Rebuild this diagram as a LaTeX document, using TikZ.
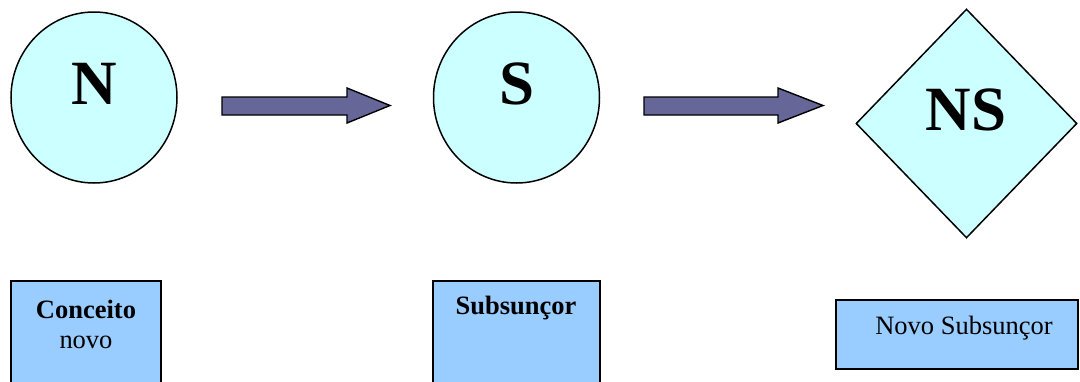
\documentclass[tikz,border=0pt]{standalone}
\usepackage{fontspec}
\setmainfont{Liberation Serif}
\usetikzlibrary{shapes.geometric}
\definecolor{bubble}{HTML}{CCFFFF}
\definecolor{card}{HTML}{99CCFF}
\definecolor{shaft}{HTML}{666699}
\begin{document}
\begin{tikzpicture}[x=1pt,y=-1pt,
  disc/.style={ellipse,draw=black,line width=1.5pt,fill=bubble,inner sep=0pt,
    minimum width=166pt,minimum height=171pt},
  rhomb/.style={diamond,draw=black,line width=1.5pt,fill=bubble,inner sep=0pt,
    minimum width=221pt,minimum height=229pt},
  bigletter/.style={font=\fontsize{63}{70}\selectfont\bfseries,inner sep=0pt},
  card/.style={draw=black,line width=1.6pt,fill=card},
  cardtext/.style={font=\fontsize{26.5}{30}\selectfont,inner sep=0pt,align=center},
  blockarrow/.style={draw=black,line width=1.4pt,fill=shaft,line join=miter}]
\useasboundingbox (0,0) rectangle (1080,381);

% concept shapes
\node[disc] (n) at (94,97.5) {};
\node[bigletter] (nlab) at (94,84) {N};
\node[disc] (s) at (516.5,97.5) {};
\node[bigletter] (slab) at (517,84) {S};
\node[rhomb] (ns) at (966.5,123.5) {};
\node[bigletter] (nslab) at (966,110) {NS};

% block arrows between the shapes
\path[blockarrow] (222,97) -- (347,97) -- (347,88) -- (390,105.5) -- (347,123)
  -- (347,115) -- (222,115) -- cycle;
\path[blockarrow] (644,97) -- (778,97) -- (778,88) -- (823,105.5) -- (778,123)
  -- (778,115) -- (644,115) -- cycle;

% caption cards
\path[card] (11,281) rectangle (161,385);
\node[cardtext] (c1) at (86,324) {\bfseries Conceito\\novo};
\path[card] (433,281) rectangle (600,385);
\node[cardtext] (c2) at (516,308) {\bfseries Subsunçor};
\node[card,minimum width=242pt,minimum height=69pt,inner sep=0pt] (c3) at (957,334.5) {};
\node[cardtext] (c3t) at (964,328) {Novo Subsunçor};
\end{tikzpicture}
\end{document}
